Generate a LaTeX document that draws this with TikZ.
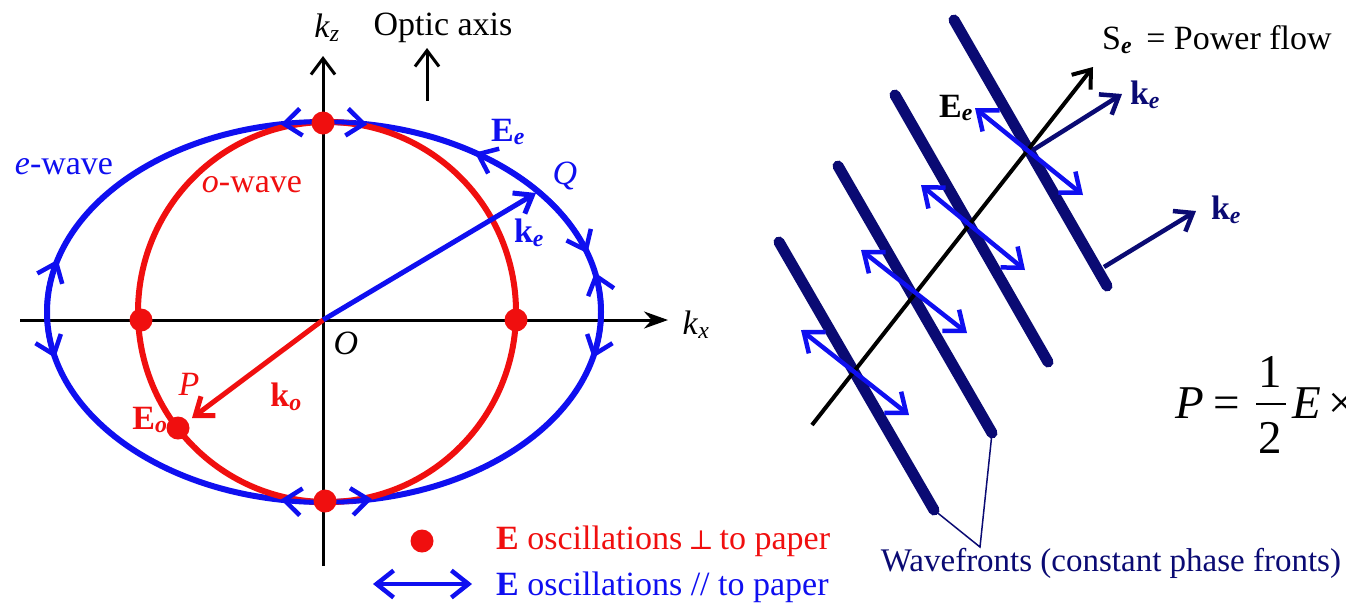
\documentclass[tikz,border=0pt]{standalone}
\usepackage{fontspec}
\setmainfont{Liberation Serif}
\newfontfamily\symfnt{DejaVu Serif}
\usetikzlibrary{arrows.meta}
\definecolor{eblue}{RGB}{15,15,240}
\definecolor{ored}{RGB}{240,15,15}
\definecolor{navy}{RGB}{10,10,115}
\newcommand{\vsub}[2]{\textbf{#1}\textsubscript{\textbf{\textit{#2}}}}
\begin{document}
\begin{tikzpicture}[x=1pt,y=-1pt,
  lbl/.style={font=\fontsize{34}{40}\selectfont, inner sep=0pt},
  big/.style={font=\fontsize{47}{52}\selectfont, inner sep=0pt},
  dbl/.style={{Straight Barb[length=17pt,width=27pt]}-{Straight Barb[length=17pt,width=27pt]}, line width=4.5pt},
  barb/.style={-{Straight Barb[length=16pt,width=24pt]}},
  dot/.style={circle, fill=ored, inner sep=0pt, minimum size=23pt},
  front/.style={line width=11pt, navy, line cap=round},
]
\useasboundingbox (0,0) rectangle (1346,606);
% ---------------- left diagram ----------------
\coordinate (O) at (323,320);
\coordinate (kxS) at (20,320);
\coordinate (kxE) at (668,320);
\coordinate (kzS) at (323,566);
\coordinate (kzE) at (323,56);
\draw[line width=3pt, -{Stealth[length=24pt,width=17pt]}] (kxS) -- (kxE);
\draw[line width=3pt, barb] (kzS) -- (kzE);
\node[lbl] (kz) at (327,28) {\textit{k}\textsubscript{\textit{z}}};
\node[lbl] (optic) at (443,28) {Optic axis};
\coordinate (oaS) at (427,101);
\coordinate (oaE) at (427,48);
\draw[line width=3pt, barb] (oaS) -- (oaE);
\node[lbl] (kx) at (696,325) {\textit{k}\textsubscript{\textit{x}}};
\node[lbl] (Olab) at (346,343) {\textit{O}};
% ellipses
\draw[eblue, line width=6pt] (324,312) ellipse[x radius=277, y radius=190];
\draw[ored, line width=6pt] (327,312) ellipse[x radius=189, y radius=190];
% oscillation arrows along e-wave
\draw[eblue, dbl] ([shift={(324,312)}]-99:277 and 190) arc[start angle=-99, end angle=-81, x radius=277, y radius=190];
\draw[eblue, dbl] ([shift={(324,312)}]-261:277 and 190) arc[start angle=-261, end angle=-280, x radius=277, y radius=190];
\draw[eblue, dbl] ([shift={(324,312)}]-164:277 and 190) arc[start angle=-164, end angle=-194, x radius=277, y radius=190];
\draw[eblue, dbl] ([shift={(324,312)}]-12:277 and 190) arc[start angle=-12, end angle=14, x radius=277, y radius=190];
\draw[eblue, dbl] ([shift={(324,312)}]-57:277 and 190) arc[start angle=-57, end angle=-18, x radius=277, y radius=190];
% dots
\node[dot] (dtop) at (323,123) {};
\node[dot] (dbot) at (325,501) {};
\node[dot] (dleft) at (141,320) {};
\node[dot] (dright) at (516,320) {};
\node[dot] (Eo) at (178,428) {};
% vectors
\coordinate (Q) at (536,193);
\coordinate (Ptip) at (192,418);
\draw[eblue, line width=5pt, barb] (O) -- (Q);
\draw[ored, line width=5pt, barb] (O) -- (Ptip);
% labels
\node[lbl, text=eblue] (ewave) at (64,167) {\textit{e}-wave};
\node[lbl, text=ored] (owave) at (252,185) {\textit{o}-wave};
\node[lbl, text=eblue] (Ee) at (508,132) {\vsub{E}{e}};
\node[lbl, text=eblue] (Qlab) at (565,176) {\textit{Q}};
\node[lbl, text=eblue] (ke) at (529,233) {\vsub{k}{e}};
\node[lbl, text=ored] (Plab) at (189,384) {\textit{P}};
\node[lbl, text=ored] (Eolab) at (150,420) {\vsub{E}{o}};
\node[lbl, text=ored] (ko) at (286,397) {\vsub{k}{o}};
% legend
\node[dot] (ldot) at (422,541) {};
\node[lbl, text=ored, anchor=west] (leg1) at (496,541) {\textbf{E} oscillations\hspace{6pt}{\symfnt\fontsize{27}{34}\selectfont ⊥}\hspace{6pt}to paper};
\coordinate (laS) at (373,584);
\coordinate (laE) at (472,584);
\draw[eblue, dbl] (laS) -- (laE);
\node[lbl, text=eblue, anchor=west] (leg2) at (496,587) {\textbf{E} oscillations // to paper};
% ---------------- right diagram ----------------
\coordinate (w1a) at (779,242); \coordinate (w1b) at (934,510);
\coordinate (w2a) at (838,166); \coordinate (w2b) at (992,433);
\coordinate (w3a) at (895,95);  \coordinate (w3b) at (1048,362);
\coordinate (w4a) at (954,20);  \coordinate (w4b) at (1107,286);
\draw[front] (w1a) -- (w1b);
\draw[front] (w2a) -- (w2b);
\draw[front] (w3a) -- (w3b);
\draw[front] (w4a) -- (w4b);
\coordinate (sS) at (812,425);
\coordinate (sE) at (1093,67);
\draw[line width=4pt, barb] (sS) -- (sE);
\coordinate (a1s) at (975,108); \coordinate (a1e) at (1083,195);
\coordinate (a2s) at (921,185); \coordinate (a2e) at (1025,270);
\coordinate (a3s) at (861,250); \coordinate (a3e) at (967,333);
\coordinate (a4s) at (801,330); \coordinate (a4e) at (909,415);
\draw[eblue, dbl] (a1s) -- (a1e);
\draw[eblue, dbl] (a2s) -- (a2e);
\draw[eblue, dbl] (a3s) -- (a3e);
\draw[eblue, dbl] (a4s) -- (a4e);
\coordinate (k1s) at (1033,150); \coordinate (k1e) at (1122,94);
\coordinate (k2s) at (1104,267); \coordinate (k2e) at (1196,211);
\draw[navy, line width=4.5pt, barb] (k1s) -- (k1e);
\draw[navy, line width=4.5pt, barb] (k2s) -- (k2e);
\node[lbl, text=navy] (ke1) at (1145,95) {\vsub{k}{e}};
\node[lbl, text=navy] (ke2) at (1226,210) {\vsub{k}{e}};
\node[lbl] (Eer) at (956,108) {\vsub{E}{e}};
\node[lbl, anchor=west] (Se) at (1102,40) {S\textsubscript{\textbf{\textit{e}}} \,= Power flow};
\coordinate (wv) at (980,547);
\draw[navy, line width=1.5pt] (w1b) -- (wv) -- (w2b);
\node[lbl, text=navy, font=\fontsize{33}{40}\selectfont] (wlab) at (1111,563) {Wavefronts (constant phase fronts)};
% formula
\node[big, anchor=base west] (fP) at (1175,418) {\textit{P}};
\node[big, anchor=base west] (feq) at (1213,418) {=};
\node[big, anchor=base] (fnum) at (1270,387) {1};
\node[big, anchor=base] (fden) at (1270,453) {2};
\coordinate (fbarL) at (1256,404);
\coordinate (fbarR) at (1286,404);
\draw[line width=2pt] (fbarL) -- (fbarR);
\node[big, anchor=base west] (fE) at (1292,418) {\textit{E}\,×};
\end{tikzpicture}
\end{document}
